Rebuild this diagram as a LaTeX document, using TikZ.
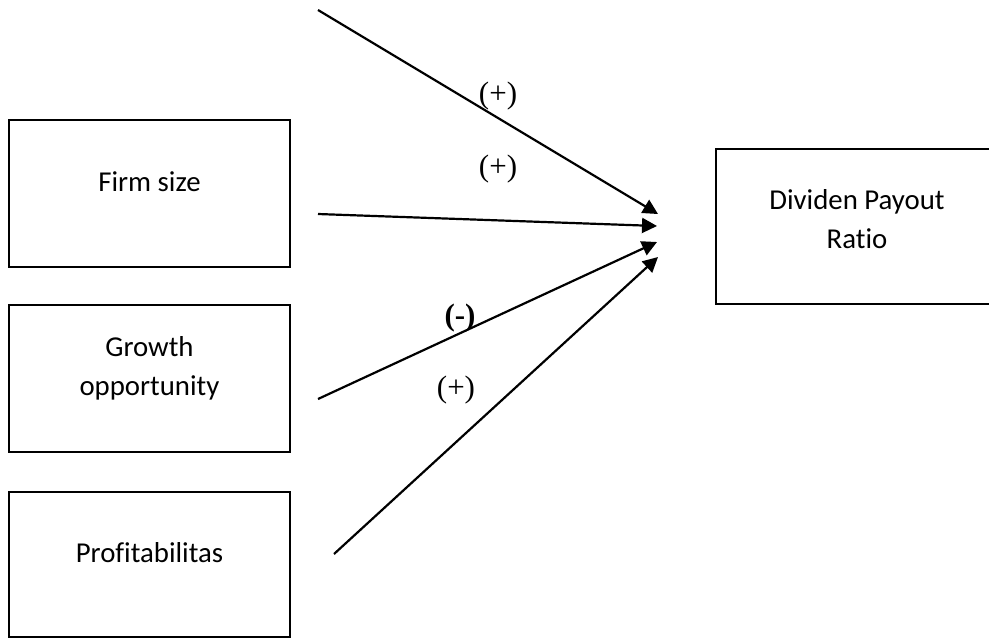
\documentclass[tikz,border=0pt]{standalone}
\usepackage{fontspec}
\setmainfont{Carlito}[RawFeature=-liga]
\newfontfamily\labfont{Liberation Serif}
\usetikzlibrary{arrows.meta}
\begin{document}
\begin{tikzpicture}[x=0.5pt,y=-0.5pt,
  varbox/.style={draw=black,line width=1.3pt,inner sep=0pt},
  vartext/.style={font=\fontsize{14.4}{19.5}\selectfont,align=center,inner sep=0pt},
  sign/.style={font=\labfont\fontsize{15.5}{18}\selectfont,inner sep=0pt},
  conn/.style={line width=1.1pt,-{Triangle[length=7.5pt,width=7.5pt]}}]
\useasboundingbox (0,0) rectangle (989,639);
\begin{scope}
\clip (0,0) rectangle (989,639);
% boxes
\node[varbox,minimum width=140.5pt,minimum height=73.5pt] (firm) at (149.5,193.5) {};
\node[varbox,minimum width=140.5pt,minimum height=73.5pt] (growth) at (149.5,378.5) {};
\node[varbox,minimum width=140.5pt,minimum height=72.5pt] (profit) at (149.5,564.5) {};
\node[varbox,minimum width=141pt,minimum height=77.5pt] (dpr) at (857,226.5) {};
\end{scope}
% texts
\node[vartext] (tfirm) at (149.5,182) {Firm size};
\node[vartext] (tgrowth) at (149.5,368) {Growth\\opportunity};
\node[vartext] (tprofit) at (149.5,553) {Profitabilitas};
\node[vartext] (tdpr) at (857,219) {Dividen Payout\\Ratio};
% connector ends
\coordinate (s1) at (318,10);
\coordinate (s2) at (318,214);
\coordinate (s3) at (318,399);
\coordinate (s4) at (334,554);
\coordinate (e1) at (658,214);
\coordinate (e2) at (657,226);
\coordinate (e3) at (657,242);
\coordinate (e4) at (658,257);
\draw[conn] (s1) -- (e1);
\draw[conn] (s2) -- (e2);
\draw[conn] (s3) -- (e3);
\draw[conn] (s4) -- (e4);
% signs
\node[sign] (l1) at (498,96) {(+)};
\node[sign] (l2) at (498,169) {(+)};
\node[sign,font=\labfont\bfseries\fontsize{15.5}{18}\selectfont] (l3) at (460,318) {(-)};
\node[sign] (l4) at (456,390) {(+)};
\end{tikzpicture}
\end{document}
